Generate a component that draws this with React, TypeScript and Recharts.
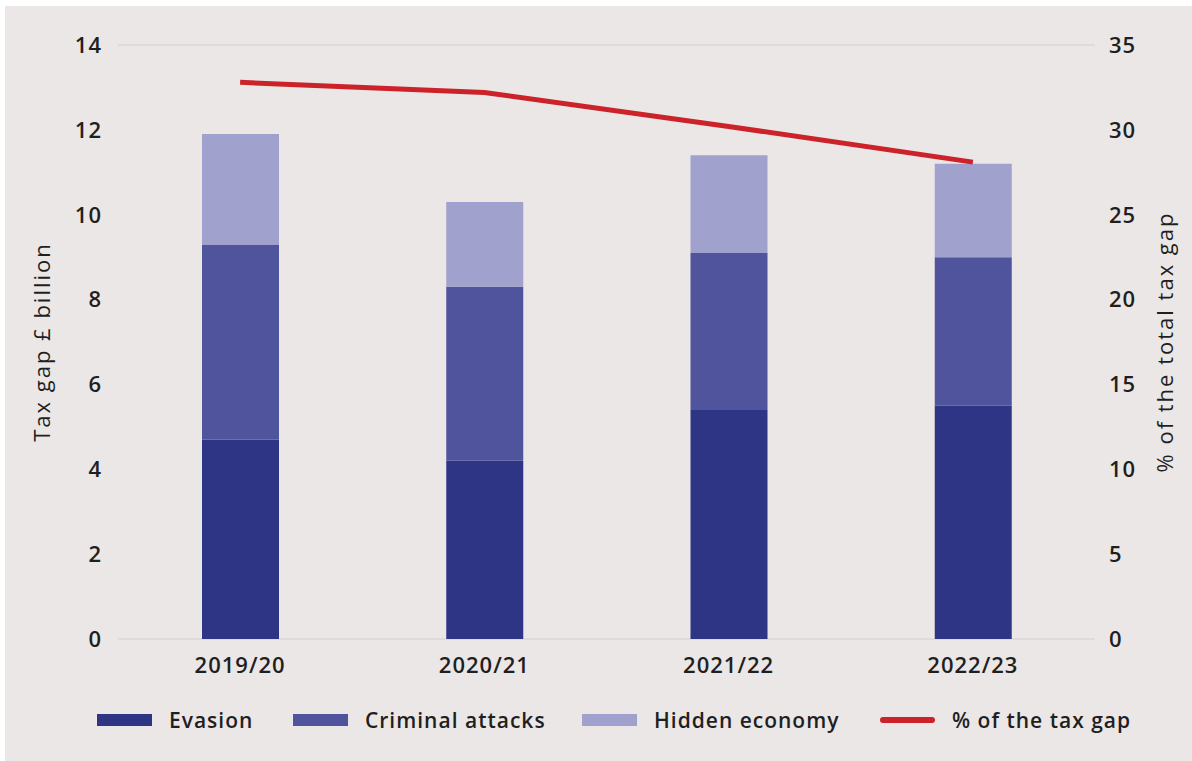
import React from 'react';
import {
  ComposedChart,
  Bar,
  Line,
  XAxis,
  YAxis,
  CartesianGrid,
  Legend
} from 'recharts';

const years = ['2019/20', '2020/21', '2021/22', '2022/23'];
const evasion = [4.7, 4.2, 5.4, 5.5];
const criminalAttacks = [4.6, 4.1, 3.7, 3.5];
const hiddenEconomy = [2.6, 2.0, 2.3, 2.2];
const shareOfTaxGap = [32.8, 32.2, 30.2, 28.1];

const leftTicks = [0, 2, 4, 6, 8, 10, 12, 14];
const rightTicks = [0, 5, 10, 15, 20, 25, 30, 35];

const data = years.map((year, i) => ({
  year,
  evasion: evasion[i],
  criminal: criminalAttacks[i],
  hidden: hiddenEconomy[i],
  share: shareOfTaxGap[i]
}));

const FONT = '"Open Sans", Lato, sans-serif';
const TEXT = '#1f1f1f';

const tickStyle = { fontSize: 22, fill: TEXT, fontFamily: FONT, fontWeight: 600, letterSpacing: 1 };
const axisLabelStyle = { fontSize: 22, fill: TEXT, fontFamily: FONT, fontWeight: 500, letterSpacing: 2 };

const legendItems = [
  { label: 'Evasion', color: '#2e3585', kind: 'bar', width: 196 },
  { label: 'Criminal attacks', color: '#4f549c', kind: 'bar', width: 289 },
  { label: 'Hidden economy', color: '#a1a1cd', kind: 'bar', width: 298 },
  { label: '% of the tax gap', color: '#cc2229', kind: 'line', width: 260 }
];

const LegendContent = () => (
  <div
    style={{
      display: 'flex',
      alignItems: 'center',
      height: 30,
      paddingLeft: 60,
      fontFamily: FONT,
      fontSize: 21,
      fontWeight: 600,
      letterSpacing: 1,
      color: TEXT
    }}
  >
    {legendItems.map((item) => (
      <div key={item.label} style={{ display: 'flex', alignItems: 'center', width: item.width, flexShrink: 0 }}>
        <span
          style={{
            display: 'inline-block',
            width: 55,
            height: item.kind === 'bar' ? 12 : 6,
            borderRadius: item.kind === 'line' ? 3 : 0,
            background: item.color,
            marginRight: 17
          }}
        />
        <span style={{ whiteSpace: 'nowrap' }}>{item.label}</span>
      </div>
    ))}
  </div>
);

export default function App() {
  return (
    <div style={{ position: 'absolute', left: 0, top: 0, width: 1192, height: 761, background: '#ffffff' }}>
      <div style={{ position: 'absolute', left: 5, top: 6, width: 1187, height: 755, background: '#ebe7e6' }} />
      <div style={{ position: 'absolute', left: 0, top: 0 }}>
        <ComposedChart
          width={1192}
          height={761}
          data={data}
          margin={{ top: 45, right: 22, bottom: 26, left: 37 }}
          barCategoryGap={0}
        >
          <CartesianGrid vertical={false} stroke="#dcd7d6" strokeWidth={1.5} />
          <XAxis
            dataKey="year"
            axisLine={false}
            tickLine={false}
            height={66}
            tickMargin={12}
            tick={tickStyle}
          />
          <YAxis
            yAxisId="left"
            domain={[0, 14]}
            ticks={leftTicks}
            width={81}
            axisLine={false}
            tickLine={false}
            tickMargin={10}
            tick={tickStyle}
            label={{ value: 'Tax gap £ billion', angle: -90, position: 'insideLeft', ...axisLabelStyle, style: { textAnchor: 'middle' } }}
          />
          <YAxis
            yAxisId="right"
            orientation="right"
            domain={[0, 35]}
            ticks={rightTicks}
            width={75}
            axisLine={false}
            tickLine={false}
            tickMargin={8}
            tick={tickStyle}
            label={{ value: '% of the total tax gap', angle: -90, position: 'insideRight', ...axisLabelStyle, style: { textAnchor: 'middle' } }}
          />
          <Legend verticalAlign="bottom" height={30} content={<LegendContent />} />
          <Bar yAxisId="left" dataKey="evasion" stackId="gap" fill="#2e3585" barSize={77} isAnimationActive={false} name="Evasion" />
          <Bar yAxisId="left" dataKey="criminal" stackId="gap" fill="#4f549c" barSize={77} isAnimationActive={false} name="Criminal attacks" />
          <Bar yAxisId="left" dataKey="hidden" stackId="gap" fill="#a1a1cd" barSize={77} isAnimationActive={false} name="Hidden economy" />
          <Line
            yAxisId="right"
            type="linear"
            dataKey="share"
            stroke="#cc2229"
            strokeWidth={5}
            dot={false}
            isAnimationActive={false}
            name="% of the tax gap"
          />
        </ComposedChart>
      </div>
    </div>
  );
}
